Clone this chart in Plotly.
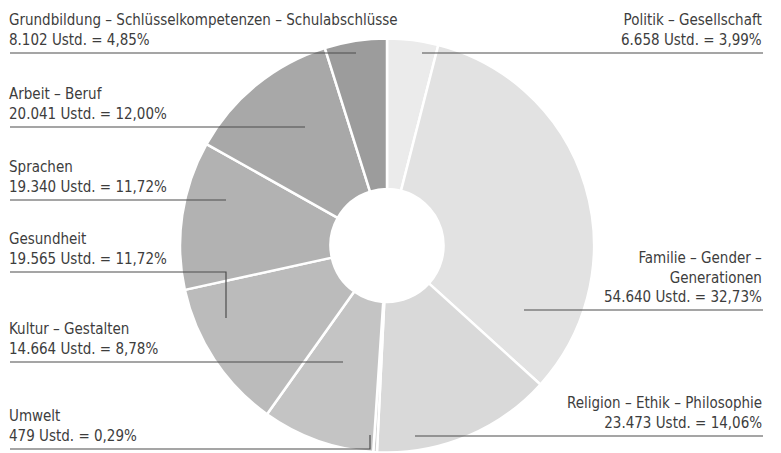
import plotly.graph_objects as go

W, H = 781, 453

# Unterrichtsstunden je Themenbereich (im Uhrzeigersinn ab 12 Uhr)
categories = [
    "Politik – Gesellschaft",
    "Familie – Gender – Generationen",
    "Religion – Ethik – Philosophie",
    "Umwelt",
    "Kultur – Gestalten",
    "Gesundheit",
    "Sprachen",
    "Arbeit – Beruf",
    "Grundbildung – Schlüsselkompetenzen – Schulabschlüsse",
]
ustd = [6658, 54640, 23473, 479, 14664, 19565, 19340, 20041, 8102]
percent_labels = ["3,99", "32,73", "14,06", "0,29", "8,78", "11,72", "11,72", "12,00", "4,85"]
colors = ["#ebebeb", "#e2e2e2", "#d9d9d9", "#cfcfcf", "#c4c4c4",
          "#bbbbbb", "#b2b2b2", "#a8a8a8", "#9c9c9c"]

# label placement in pixels: side, underline y, x where the leader ends inside the ring,
# optional y of a vertical leader segment
label_layout = [
    ("right", 53, 422, None),
    ("right", 310, 524, None),
    ("right", 436, 415, None),
    ("left", 449, 370, 435),
    ("left", 362, 343, None),
    ("left", 272, 226, 318),
    ("left", 200, 226, None),
    ("left", 127, 305, None),
    ("left", 53, 356, None),
]
name_breaks = {"Familie – Gender – Generationen": "Familie – Gender –<br>Generationen"}

LEFT_X, RIGHT_X = 10, 763
TEXT = "#3d3d3d"
LEADER = "#4d4d4d"
FONT = "DejaVu Sans Condensed, Roboto, sans-serif"


def px(x):
    return x / W


def py(y):
    return 1 - y / H


def de_int(v):
    return f"{v:,}".replace(",", ".")


cx, cy, r = 387, 245.5, 207
fig = go.Figure(go.Pie(
    values=ustd,
    labels=categories,
    sort=False,
    direction="clockwise",
    rotation=0,
    hole=0.273,
    marker=dict(colors=colors, line=dict(color="white", width=2.5)),
    textinfo="none",
    hoverinfo="label+value",
    showlegend=False,
    domain=dict(x=[px(cx - r), px(cx + r)], y=[py(cy + r), py(cy - r)]),
))

shapes, annotations = [], []
for name, v, pct, (side, uy, inner_x, elbow_y) in zip(categories, ustd, percent_labels, label_layout):
    outer_x = LEFT_X if side == "left" else RIGHT_X
    path = f"M {px(outer_x)},{py(uy)} L {px(inner_x)},{py(uy)}"
    if elbow_y is not None:
        path += f" L {px(inner_x)},{py(elbow_y)}"
    shapes.append(dict(type="path", xref="paper", yref="paper", path=path,
                       line=dict(color=LEADER, width=1.2)))
    text = f"{name_breaks.get(name, name)}<br>{de_int(v)} Ustd. = {pct}%"
    annotations.append(dict(
        xref="paper", yref="paper", x=px(outer_x), y=py(uy),
        xanchor=side, yanchor="bottom", yshift=2,
        xshift=-3 if side == "left" else 1,
        align=side, showarrow=False, text=text,
        font=dict(family=FONT, size=15, color=TEXT),
    ))

fig.update_layout(
    width=W, height=H,
    margin=dict(l=0, r=0, t=0, b=0),
    paper_bgcolor="white", plot_bgcolor="white",
    shapes=shapes, annotations=annotations,
)

fig.write_html("out.html")
